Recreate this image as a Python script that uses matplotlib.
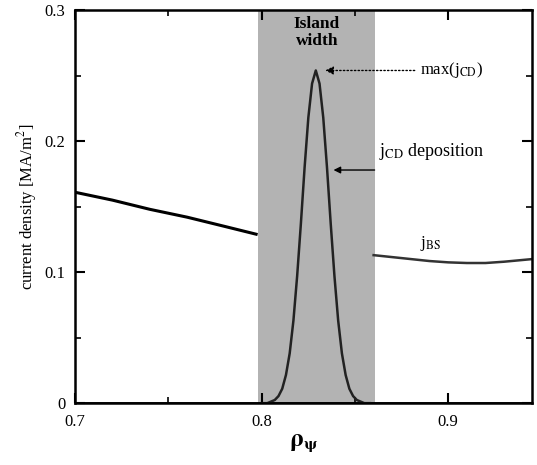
import matplotlib.pyplot as plt
import numpy as np

plt.rcParams['font.family'] = ['Liberation Serif', 'DejaVu Serif']
plt.rcParams['mathtext.fontset'] = 'stix'

# bootstrap current profile, left and right of the island
bs_left_x = [0.70, 0.72, 0.74, 0.76, 0.78, 0.797]
bs_left_y = [0.161, 0.155, 0.148, 0.142, 0.135, 0.129]
bs_right_x = [0.860, 0.870, 0.880, 0.890, 0.900, 0.910, 0.920, 0.930, 0.945]
bs_right_y = [0.113, 0.1115, 0.110, 0.1085, 0.1075, 0.107, 0.107, 0.108, 0.110]

# ECCD deposition profile
cd_x = [0.800, 0.803, 0.807, 0.809, 0.811, 0.813, 0.815, 0.817, 0.819, 0.821,
        0.823, 0.825, 0.827, 0.829, 0.831, 0.833, 0.835, 0.837, 0.839, 0.841,
        0.843, 0.845, 0.847, 0.849, 0.851, 0.855, 0.858]
cd_y = [0.000, 0.000, 0.0024, 0.0054, 0.011, 0.0215, 0.038, 0.063, 0.097, 0.137,
        0.180, 0.218, 0.244, 0.254, 0.244, 0.218, 0.180, 0.137, 0.097, 0.063,
        0.038, 0.0215, 0.011, 0.0054, 0.0024, 0.000, 0.000]

island = (0.798, 0.861)

fig = plt.figure(figsize=(5.37, 4.65), dpi=100)
ax = fig.add_axes([0.140, 0.133, 0.851, 0.845])

ax.axvspan(island[0], island[1], color='#b3b3b3', lw=0, zorder=0)
ax.plot(bs_left_x, bs_left_y, color='black', lw=2.2)
ax.plot(bs_right_x, bs_right_y, color='#333333', lw=1.8)
ax.plot(cd_x, cd_y, color='#222222', lw=1.8)
ax.axhline(0, color='black', lw=2, zorder=1)

ax.set_xlim(0.7, 0.945)
ax.set_ylim(0, 0.3)
ax.set_xticks([0.7, 0.8, 0.9])
ax.set_xticklabels(['0.7', '0.8', '0.9'])
ax.set_xticks([0.75, 0.85], minor=True)
ax.set_yticks([0, 0.1, 0.2, 0.3])
ax.set_yticklabels(['0', '0.1', '0.2', '0.3'])
ax.set_yticks([0.05, 0.15, 0.25], minor=True)
ax.tick_params(which='both', direction='in', top=True, right=True, labelsize=12)
ax.tick_params(which='major', length=7, width=1.5)
ax.tick_params(which='minor', length=4, width=1.2)
ax.tick_params(axis='x', which='major', pad=8)
ax.tick_params(axis='y', which='major', pad=7)
for s in ax.spines.values():
    s.set_linewidth(1.8)

ax.set_xlabel(r'$\mathbf{\rho_\psi}$', fontsize=18, labelpad=2)
ax.set_ylabel('current density [MA/m$^2$]', fontsize=12, labelpad=4)

ax.text(0.8295, 0.283, 'Island\nwidth', ha='center', va='center',
        fontsize=12.5, fontweight='bold', linespacing=1.1)
ax.annotate(r'max(j$_{\rm CD}$)', xy=(0.8325, 0.254), xytext=(0.885, 0.254),
            va='center', fontsize=12,
            arrowprops=dict(arrowstyle='-|>', ls=':', color='black', lw=1))
ax.text(0.863, 0.192, r'j$_{\rm CD}$ deposition', fontsize=13, va='center')
ax.annotate('', xy=(0.837, 0.178), xytext=(0.862, 0.178),
            arrowprops=dict(arrowstyle='-|>', color='black', lw=1))
ax.text(0.885, 0.122, r'j$_{\rm BS}$', fontsize=12, va='center')

plt.savefig('out.png', dpi=100)
